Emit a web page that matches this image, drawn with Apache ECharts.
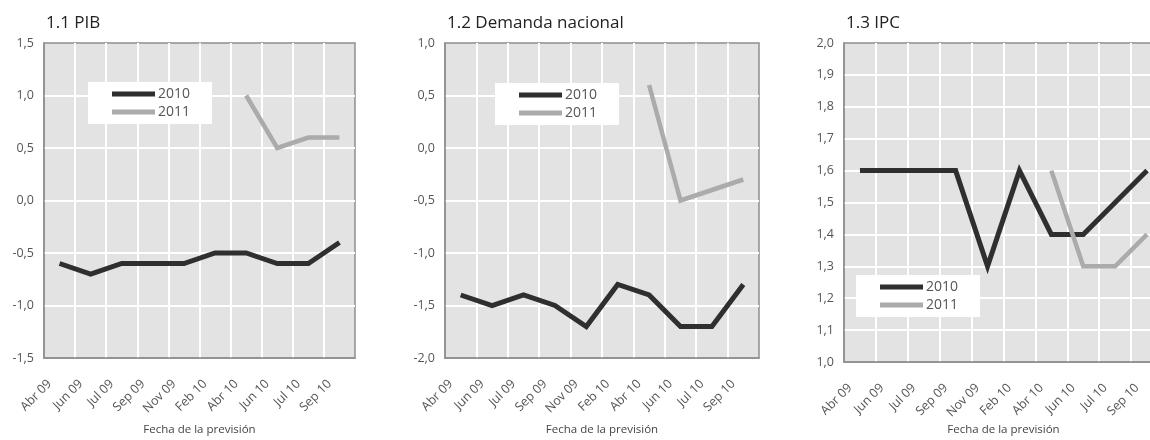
<!DOCTYPE html>
<html>
<head>
<meta charset="utf-8">
<script src="https://cdn.jsdelivr.net/npm/echarts@6/dist/echarts.min.js"></script>
<style>html,body{margin:0;padding:0;background:#fff;}#c{width:1150px;height:440px;}</style>
</head>
<body>
<div id="c"></div>
<script>
var categories = ['Abr 09','Jun 09','Jul 09','Sep 09','Nov 09','Feb 10','Abr 10','Jun 10','Jul 10','Sep 10'];
var pib2010 = [-0.6,-0.7,-0.6,-0.6,-0.6,-0.5,-0.5,-0.6,-0.6,-0.4];
var pib2011 = [null,null,null,null,null,null,1.0,0.5,0.6,0.6];
var dem2010 = [-1.4,-1.5,-1.4,-1.5,-1.7,-1.3,-1.4,-1.7,-1.7,-1.3];
var dem2011 = [null,null,null,null,null,null,0.6,-0.5,-0.4,-0.3];
var ipc2010 = [1.6,1.6,1.6,1.6,1.3,1.6,1.4,1.4,1.5,1.6];
var ipc2011 = [null,null,null,null,null,null,1.6,1.3,1.3,1.4];
var titles = ['1.1 PIB','1.2 Demanda nacional','1.3 IPC'];
var seriesNames = ['2010','2011'];
var xName = 'Fecha de la previsión';

var FONT = 'Open Sans';
var C2010 = '#2f2f2f', C2011 = '#ababab', BORDER = '#8e8e8e';
var chart = echarts.init(document.getElementById('c'));
var grids = [
  {left:44, top:43, width:311, height:315},
  {left:445, top:43, width:314, height:315},
  {left:844, top:43, width:319, height:319}
];
var nameGaps = [66, 66, 62];
var yCfg = [{min:-1.5,max:1.5,interval:0.5},{min:-2,max:1,interval:0.5},{min:1,max:2,interval:0.1}];
var data = [[pib2010,pib2011],[dem2010,dem2011],[ipc2010,ipc2011]];
var legendPos = [{left:88,top:82},{left:495,top:83},{left:856,top:275}];
function fmt(v){return v.toFixed(1).replace('.',',');}
var option = {
  animation:false,
  textStyle:{fontFamily:FONT},
  title: titles.map(function(t,i){return {text:t,left:grids[i].left-3,top:10,textStyle:{fontFamily:FONT,fontSize:17,fontWeight:500,color:'#222'}};}),
  grid: grids.map(function(g){return Object.assign({show:true,backgroundColor:'#e3e3e3',borderColor:BORDER,borderWidth:1.5,containLabel:false,outerBoundsMode:'none'},g);}),
  legend: legendPos.map(function(p){return {left:p.left,top:p.top,orient:'vertical',data:seriesNames,backgroundColor:'#ffffff',padding:[5,22,5,24],itemGap:4,itemWidth:43,itemHeight:5,icon:'rect',selectedMode:false,textStyle:{fontFamily:FONT,fontSize:14,color:'#555',padding:[0,0,0,-2]}};}),
  xAxis: grids.map(function(g,i){return {type:'category',gridIndex:i,data:categories,boundaryGap:true,
    axisLine:{show:true,onZero:false,lineStyle:{color:BORDER,width:1.5}},axisTick:{show:false},
    axisLabel:{rotate:45,fontSize:12.5,color:'#555',margin:14,interval:0,fontFamily:FONT,padding:[0,14,0,0]},
    splitLine:{show:true,interval:0,showMinLine:false,showMaxLine:false,lineStyle:{color:'#ffffff',width:2}},
    name:xName,nameLocation:'middle',nameGap:nameGaps[i],nameMoveOverlap:false,nameTextStyle:{fontSize:11.5,color:'#444',fontFamily:FONT}};}),
  yAxis: yCfg.map(function(y,i){return {type:'value',gridIndex:i,min:y.min,max:y.max,interval:y.interval,
    axisLine:{show:true,onZero:false,lineStyle:{color:BORDER,width:1.5}},axisTick:{show:false},
    axisLabel:{formatter:fmt,fontSize:12.5,color:'#555',margin:10,fontFamily:FONT},
    splitLine:{show:true,showMinLine:false,showMaxLine:false,lineStyle:{color:'#ffffff',width:2}}};}),
  series: []
};
data.forEach(function(pair,i){
  pair.forEach(function(arr,k){
    option.series.push({type:'line',name:seriesNames[k],xAxisIndex:i,yAxisIndex:i,data:arr,
      showSymbol:false,symbol:'none',connectNulls:false,
      itemStyle:{color:k===0?C2010:C2011},
      lineStyle:{color:k===0?C2010:C2011,width:k===0?5:4.5,join:'miter',cap:'butt'},
      z:k===0?3:4});
  });
});
chart.setOption(option);
</script>
</body>
</html>
